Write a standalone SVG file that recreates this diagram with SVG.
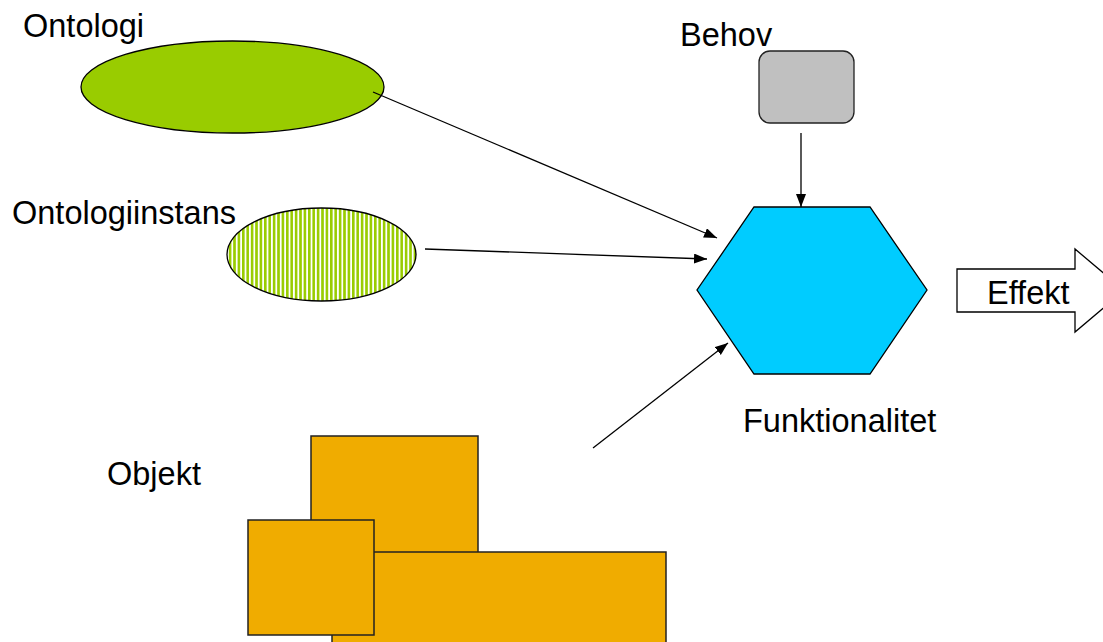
<svg xmlns="http://www.w3.org/2000/svg" width="1103" height="642" viewBox="0 0 1103 642">
<style>
text{font-family:"Liberation Sans",Arial,sans-serif;font-size:32.5px;fill:#000}
.obj{fill:#F0AC00;stroke:#222;stroke-width:1.5}
.conn{stroke:#000;stroke-width:1.3;fill:none;marker-end:url(#ah)}
</style>
<defs>
<marker id="ah" markerUnits="userSpaceOnUse" markerWidth="14" markerHeight="12" refX="13" refY="5" orient="auto">
<path d="M0,0 L13,5 L0,10 z" fill="#000"/>
</marker>
<pattern id="stripes" patternUnits="userSpaceOnUse" width="4.4" height="10">
<rect width="4.4" height="10" fill="#fff"/>
<rect width="2.6" height="10" fill="#99CC00"/>
</pattern>
</defs>
<rect width="1103" height="642" fill="#fff"/>
<g id="ontologi">
<ellipse cx="232.5" cy="87" rx="151.5" ry="46" fill="#99CC00" stroke="#000" stroke-width="1.3"/>
<text x="23" y="37">Ontologi</text>
</g>
<g id="ontologiinstans">
<ellipse cx="321.5" cy="254.5" rx="94.5" ry="46.5" fill="url(#stripes)" stroke="#000" stroke-width="1.3"/>
<text x="12" y="224">Ontologiinstans</text>
</g>
<g id="behov">
<rect x="759" y="51" width="95" height="72" rx="11" fill="#C0C0C0" stroke="#222" stroke-width="1.3"/>
<text x="680" y="46">Behov</text>
</g>
<g id="funktionalitet">
<polygon points="754,207 870,207 927,290 870,374 754,374 697,290" fill="#00CCFF" stroke="#000" stroke-width="1.3"/>
<text x="743" y="432">Funktionalitet</text>
</g>
<g id="effekt">
<polygon points="957,269 1075,269 1075,249 1124,290.5 1075,332 1075,312 957,312" fill="#fff" stroke="#000" stroke-width="1.3"/>
<text x="987" y="304">Effekt</text>
</g>
<g id="objekt">
<rect class="obj" x="311" y="436" width="167" height="130"/>
<rect class="obj" x="332" y="552" width="334" height="100"/>
<rect class="obj" x="248" y="520" width="126" height="115"/>
<text x="107" y="485">Objekt</text>
</g>
<g id="connectors">
<line class="conn" x1="373" y1="92" x2="717" y2="238"/>
<line class="conn" x1="425" y1="249" x2="707" y2="259"/>
<line class="conn" x1="593" y1="448" x2="728" y2="343"/>
<line class="conn" x1="801" y1="133" x2="801" y2="207"/>
</g>
</svg>
